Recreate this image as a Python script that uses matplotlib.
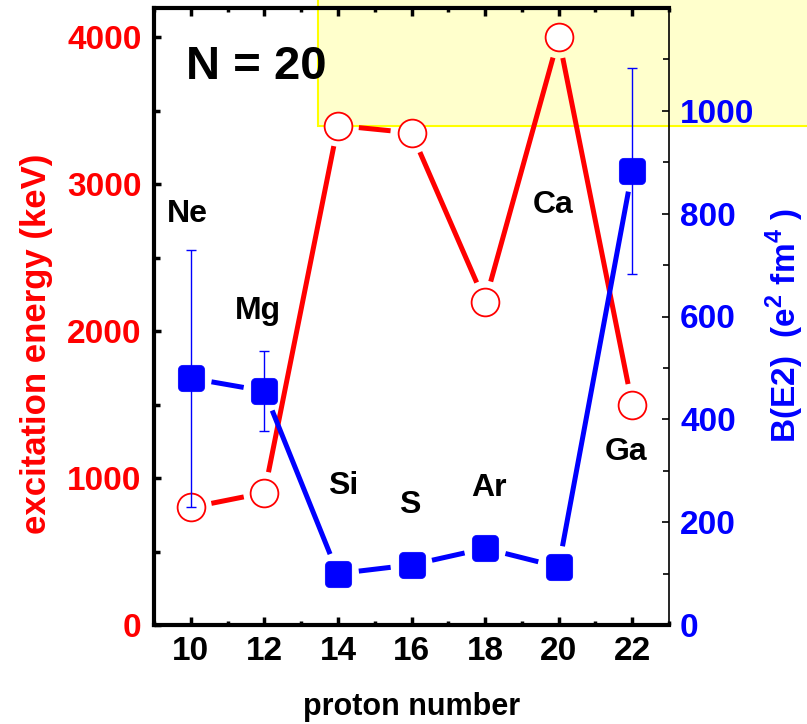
#!/usr/bin/env python3

import numpy as np
import matplotlib
matplotlib.use( 'Agg' )
import matplotlib.pyplot as plt
from matplotlib.patches import Rectangle, FancyBboxPatch
from matplotlib.ticker import MultipleLocator, FixedLocator

plt.rcParams['font.family'] = [ 'Liberation Sans', 'DejaVu Sans' ]
plt.rcParams['font.weight'] = 'bold'
plt.rcParams['mathtext.fontset'] = 'custom'
plt.rcParams['mathtext.rm'] = 'Liberation Sans:bold'
plt.rcParams['mathtext.bf'] = 'Liberation Sans:bold'

# N = 20 isotones
protonNumber     = [ 10, 12, 14, 16, 18, 20, 22 ]
elements         = [ 'Ne', 'Mg', 'Si', 'S', 'Ar', 'Ca', 'Ga' ]
excitationEnergy = [ 800, 900, 3400, 3350, 2200, 4000, 1500 ]   # keV
bE2              = [ 480, 455, 100, 117, 149, 113, 883 ]         # e^2 fm^4
bE2Error         = [ 250, 78, 0, 0, 0, 0, 200 ]

# label positions (x, left-axis y)
labelPositions = [ ( 9.92, 2800 ), ( 11.83, 2140 ), ( 14.14, 946 ), ( 15.96, 816 ),
                   ( 18.1, 932 ), ( 19.84, 2857 ), ( 21.83, 1177 ) ]

def gappedLine( ax, xs, ys, gap, **kwargs ):
    # Origin-style: segments stop short of the markers
    pts = ax.transData.transform( np.column_stack( [ xs, ys ] ) )
    inv = ax.transData.inverted()
    for p0, p1 in zip( pts[:-1], pts[1:] ):
        d = p1 - p0
        d = d / np.hypot( *d )
        seg = inv.transform( np.array( [ p0 + d * gap, p1 - d * gap ] ) )
        ax.plot( seg[:, 0], seg[:, 1], solid_capstyle = 'butt', **kwargs )

fig = plt.figure( figsize = ( 8.07, 7.24 ), dpi = 100 )
ax = fig.add_axes( [ 154 / 807, 1 - 625 / 724, ( 669 - 154 ) / 807, ( 625 - 8 ) / 724 ] )
ax2 = ax.twinx()

ax.set_xlim( 9, 23 )
ax.set_ylim( 0, 4200 )
ax2.set_ylim( 0, 1200 )

# yellow box in the upper right corner
ax.add_patch( Rectangle( ( 318 / 807, 1 - 126 / 724 ), 0.7, 0.3, transform = fig.transFigure,
                         facecolor = '#ffffcc', edgecolor = '#ffff00', linewidth = 1.5,
                         clip_on = False, zorder = 0 ) )

gappedLine( ax, protonNumber, excitationEnergy, 21, color = 'red', linewidth = 3.6, zorder = 2 )
ax.plot( protonNumber, excitationEnergy, linestyle = 'none', marker = 'o', markersize = 20,
         markerfacecolor = 'white', markeredgecolor = 'red', markeredgewidth = 1.3, zorder = 3 )

roundSquare = FancyBboxPatch( ( -0.5, -0.5 ), 1, 1,
                              boxstyle = 'round,pad=0,rounding_size=0.2' ).get_path()
hasErr = [ i for i, e in enumerate( bE2Error ) if e > 0 ]
ax2.errorbar( [ protonNumber[i] for i in hasErr ], [ bE2[i] for i in hasErr ],
              yerr = [ bE2Error[i] for i in hasErr ], fmt = 'none', ecolor = 'blue',
              elinewidth = 1, capsize = 3.5, capthick = 1, zorder = 2 )
gappedLine( ax2, protonNumber, bE2, 21, color = 'blue', linewidth = 3.6, zorder = 2 )
ax2.plot( protonNumber, bE2, linestyle = 'none', marker = roundSquare, markersize = 19,
          markerfacecolor = 'blue', markeredgecolor = 'blue', markeredgewidth = 0.5, zorder = 3 )

for name, ( x, y ) in zip( elements, labelPositions ):
    ax.text( x, y, name, ha = 'center', va = 'center', fontsize = 23, fontweight = 'bold' )
ax.text( 11.77, 3796, 'N = 20', ha = 'center', va = 'center', fontsize = 34, fontweight = 'bold' )

# axes styling
for side in [ 'left', 'bottom', 'top' ]:
    ax.spines[side].set_linewidth( 3 )
ax.spines['right'].set_visible( False )
for side in [ 'left', 'bottom', 'top' ]:
    ax2.spines[side].set_visible( False )
ax2.spines['right'].set_linewidth( 1.2 )

ax.xaxis.set_major_locator( MultipleLocator( 2 ) )
ax.xaxis.set_minor_locator( MultipleLocator( 1 ) )
ax.yaxis.set_major_locator( MultipleLocator( 1000 ) )
ax.yaxis.set_minor_locator( MultipleLocator( 500 ) )
ax2.yaxis.set_major_locator( FixedLocator( [ 0, 200, 400, 600, 800, 1000 ] ) )
ax2.yaxis.set_minor_locator( MultipleLocator( 100 ) )

ax.tick_params( axis = 'x', which = 'both', direction = 'in', top = True, width = 2.5,
                labelsize = 24, pad = 8, colors = 'black' )
ax.tick_params( axis = 'x', which = 'major', length = 5.5 )
ax.tick_params( axis = 'x', which = 'minor', length = 3 )
ax.tick_params( axis = 'y', which = 'both', direction = 'in', width = 2.5,
                labelsize = 24, pad = 9, labelcolor = 'red' )
ax.tick_params( axis = 'y', which = 'major', length = 5 )
ax.tick_params( axis = 'y', which = 'minor', length = 4 )
ax2.tick_params( axis = 'y', which = 'both', direction = 'in', width = 1.2,
                 labelsize = 24, pad = 8, labelcolor = 'blue' )
ax2.tick_params( axis = 'y', which = 'major', length = 5 )
ax2.tick_params( axis = 'y', which = 'minor', length = 4 )
for label in ax.get_xticklabels() + ax.get_yticklabels() + ax2.get_yticklabels():
    label.set_fontweight( 'bold' )

ax.set_xlabel( 'proton number', fontsize = 22, fontweight = 'bold' )
ax.xaxis.set_label_coords( 0.5, -0.108 )
ax.set_ylabel( 'excitation energy (keV)', fontsize = 25, fontweight = 'bold', color = 'red' )
ax.yaxis.set_label_coords( -0.196, 0.455 )
ax2.set_ylabel( r'B(E2)  (e$^\mathbf{2}$ fm$^\mathbf{4}$ )', fontsize = 24, fontweight = 'bold',
                color = 'blue' )
ax2.yaxis.set_label_coords( 1.185, 0.485 )

fig.savefig( 'out.png', dpi = 100 )
